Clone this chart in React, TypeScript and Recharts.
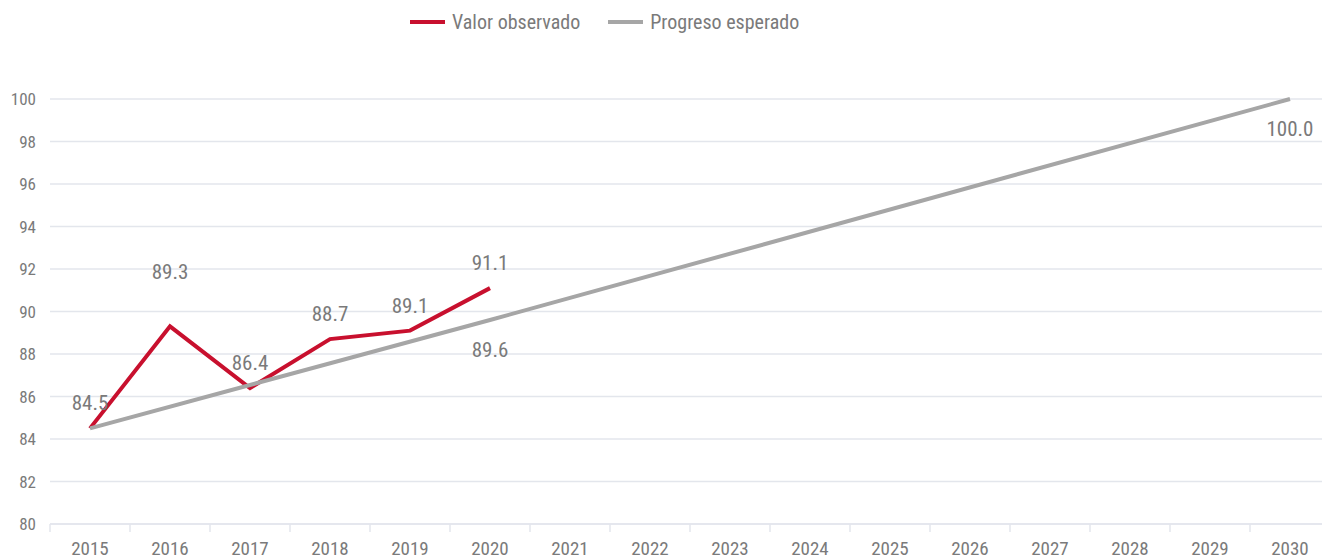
import { LineChart, Line, XAxis, YAxis, CartesianGrid, LabelList } from "recharts"

const years = [2015, 2016, 2017, 2018, 2019, 2020, 2021, 2022, 2023, 2024, 2025, 2026, 2027, 2028, 2029, 2030]
const observed = [84.5, 89.3, 86.4, 88.7, 89.1, 91.1, null, null, null, null, null, null, null, null, null, null]
const expected = [84.5, null, null, null, null, 89.6, null, null, null, null, null, null, null, null, null, 100.0]
const expectedLabeled = [2020, 2030]
const yTicks = [80, 82, 84, 86, 88, 90, 92, 94, 96, 98, 100]
const boundaryTicks = [2014.5, 2015.5, 2016.5, 2017.5, 2018.5, 2019.5, 2020.5, 2021.5, 2022.5, 2023.5, 2024.5, 2025.5, 2026.5, 2027.5, 2028.5, 2029.5, 2030.5]
const seriesNames = ["Valor observado", "Progreso esperado"]

const FONT = '"Liberation Sans Narrow", "Roboto Condensed", "DejaVu Sans Condensed", sans-serif'
const RED = "#C8102E"
const GREY = "#A6A6A6"
const TEXT = "#7A7A7A"
const GRID = "#E3E6EC"

const data = years.map((y, i) => ({
  year: y,
  observed: observed[i],
  expected: expected[i],
  expLabel: expectedLabeled.includes(y) ? expected[i] : null,
}))

const allXTicks = [...boundaryTicks, ...years].sort((a, b) => a - b)

const fmt = (v: any) => (v == null ? "" : Number(v).toFixed(1))

function YearTick({ x, y, payload }: any) {
  const v = payload.value
  if (v % 1 !== 0) {
    return <line x1={x} x2={x} y1={y} y2={y + 8} stroke={GRID} strokeWidth={1.5} />
  }
  return (
    <text x={x} y={y + 31} textAnchor="middle" fill={TEXT} fontSize={19} fontFamily={FONT}>
      {v}
    </text>
  )
}

// observed labels sit above the point; the 2016 peak label was lifted higher in the original
function ObservedLabel({ x, y, value, index }: any) {
  if (value == null) return null
  const lift = index === 1 ? 54 : 25
  return (
    <text x={x} y={y - lift} textAnchor="middle" dominantBaseline="central" fill={TEXT} fontSize={21} fontFamily={FONT}>
      {fmt(value)}
    </text>
  )
}

function ChartLegend() {
  const colors = [RED, GREY]
  return (
    <div style={{ position: "absolute", left: 410, top: 10, display: "flex", alignItems: "center", fontFamily: FONT, fontSize: 20, color: TEXT, zIndex: 2 }}>
      {seriesNames.map((n, i) => (
        <div key={n} style={{ display: "flex", alignItems: "center", marginRight: 28 }}>
          <span style={{ display: "inline-block", width: 35, height: 4, background: colors[i], marginRight: 7 }} />
          <span>{n}</span>
        </div>
      ))}
    </div>
  )
}

export default function App() {
  return (
    <div style={{ position: "absolute", left: 0, top: 0, width: 1322, height: 560, overflow: "hidden", background: "#fff" }}>
      <ChartLegend />
      <LineChart width={1340} height={560} data={data} margin={{ top: 99, right: 10, bottom: 0, left: 0 }}>
        <CartesianGrid vertical={false} stroke={GRID} strokeWidth={1.5} />
        <XAxis
          dataKey="year"
          type="number"
          domain={[2014.5, 2030.5]}
          ticks={allXTicks}
          interval={0}
          height={36}
          stroke={GRID}
          strokeWidth={1.5}
          tickLine={false}
          tickSize={0}
          tickMargin={0}
          tick={<YearTick />}
        />
        <YAxis
          domain={[80, 100]}
          ticks={yTicks}
          width={50}
          axisLine={false}
          tickLine={false}
          tickSize={0}
          tickMargin={14}
          tick={{ fill: TEXT, fontSize: 17, fontFamily: FONT }}
        />
        <Line
          name={seriesNames[0]}
          dataKey="observed"
          stroke={RED}
          strokeWidth={4}
          dot={false}
          activeDot={false}
          isAnimationActive={false}
          strokeLinejoin="miter"
        >
          <LabelList dataKey="observed" content={<ObservedLabel />} />
        </Line>
        <Line
          name={seriesNames[1]}
          dataKey="expected"
          stroke={GREY}
          strokeWidth={4}
          dot={false}
          activeDot={false}
          connectNulls
          isAnimationActive={false}
        >
          <LabelList dataKey="expLabel" position="bottom" offset={22} formatter={fmt} fill={TEXT} fontSize={21} fontFamily={FONT} />
        </Line>
      </LineChart>
    </div>
  )
}
